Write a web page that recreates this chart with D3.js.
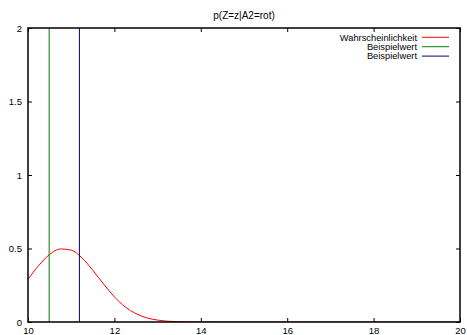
<!DOCTYPE html>
<html>
<head>
<meta charset="utf-8">
<script src="https://cdn.jsdelivr.net/npm/d3@7"></script>
<style>
html,body{margin:0;padding:0;background:#fff;}
svg{display:block;font-family:"Liberation Sans",Arial,Helvetica,sans-serif;}
</style>
</head>
<body>
<svg id="chart" width="467" height="335"></svg>
<script>
// ---- data ----
const titleText = "p(Z=z|A2=rot)";
const xTicks = [10, 12, 14, 16, 18, 20];
const yTicks = [0, 0.5, 1, 1.5, 2];
const yTickLabels = ["0", "0.5", "1", "1.5", "2"];
const curveX = [10, 10.25, 10.5, 10.75, 11, 11.25, 11.5, 11.75, 12, 12.25, 12.5, 12.75, 13, 13.25, 13.5, 13.75, 14, 15, 16, 17, 18, 19, 20];
const curveY = [0.29, 0.385, 0.459, 0.497, 0.489, 0.436, 0.352, 0.258, 0.171, 0.103, 0.057, 0.028, 0.013, 0.005, 0.002, 0.0007, 0.0002, 0, 0, 0, 0, 0, 0];
const sampleValues = [10.49, 11.19];
const legendLabels = ["Wahrscheinlichkeit", "Beispielwert", "Beispielwert"];
const seriesColors = ["#ff0000", "#008000", "#000080"];

// ---- layout ----
const svg = d3.select("#chart");
const pL = 28, pR = 460, pT = 28, pB = 322;
const x = d3.scaleLinear().domain([10, 20]).range([pL, pR]);
const y = d3.scaleLinear().domain([0, 2]).range([pB, pT]);
const fs = 9.5;

// title
svg.append("text").attr("x", (pL + pR) / 2).attr("y", 19)
  .attr("text-anchor", "middle").attr("font-size", 10).attr("fill", "#000").text(titleText);

// clip
svg.append("clipPath").attr("id", "clip").append("rect")
  .attr("x", pL).attr("y", pT).attr("width", pR - pL).attr("height", pB - pT);

const plot = svg.append("g").attr("clip-path", "url(#clip)");

// curve
const line = d3.line().x((d, i) => x(curveX[i])).y(d => y(d)).curve(d3.curveMonotoneX);
plot.append("path").datum(curveY).attr("d", line)
  .attr("fill", "none").attr("stroke", seriesColors[0]).attr("stroke-width", 1);

// vertical sample lines
plot.selectAll("line.sample").data(sampleValues).enter().append("line")
  .attr("class", "sample")
  .attr("x1", d => x(d)).attr("x2", d => x(d))
  .attr("y1", y(0)).attr("y2", y(2))
  .attr("stroke", (d, i) => seriesColors[i + 1]).attr("stroke-width", 1);

// axes (gnuplot-like: mirrored inward ticks)
const tickLen = 4;
const axB = d3.axisBottom(x).tickValues(xTicks).tickSize(-tickLen).tickPadding(6).tickFormat(d3.format("d"));
const axT = d3.axisTop(x).tickValues(xTicks).tickSize(-tickLen).tickFormat("");
const axL = d3.axisLeft(y).tickValues(yTicks).tickSize(-tickLen).tickPadding(6).tickFormat((d, i) => yTickLabels[i]);
const axR = d3.axisRight(y).tickValues(yTicks).tickSize(-tickLen).tickFormat("");

function style(g) {
  g.select(".domain").remove();
  g.selectAll(".tick line").attr("stroke", "#000").attr("stroke-width", 1);
  g.selectAll(".tick text").attr("font-size", fs).attr("fill", "#000")
    .attr("font-family", "Liberation Sans, Arial, sans-serif");
}
svg.append("g").attr("transform", `translate(0,${pB})`).call(axB).call(style)
  .selectAll(".tick text").attr("dy", "0.71em").attr("y", 5);
svg.append("g").attr("transform", `translate(0,${pT})`).call(axT).call(style);
svg.append("g").attr("transform", `translate(${pL},0)`).call(axL).call(style);
svg.append("g").attr("transform", `translate(${pR},0)`).call(axR).call(style);

// border
svg.append("rect").attr("x", pL).attr("y", pT).attr("width", pR - pL).attr("height", pB - pT)
  .attr("fill", "none").attr("stroke", "#000").attr("stroke-width", 1.5);

// legend
const lg = svg.append("g");
legendLabels.forEach((lab, i) => {
  const yy = 37.3 + i * 9.4;
  lg.append("text").attr("x", 417).attr("y", yy).attr("dy", "0.35em")
    .attr("text-anchor", "end").attr("font-size", 9.3).attr("fill", "#000").text(lab);
  lg.append("line").attr("x1", 422).attr("x2", 449).attr("y1", yy).attr("y2", yy)
    .attr("stroke", seriesColors[i]).attr("stroke-width", 1);
});
</script>
</body>
</html>
